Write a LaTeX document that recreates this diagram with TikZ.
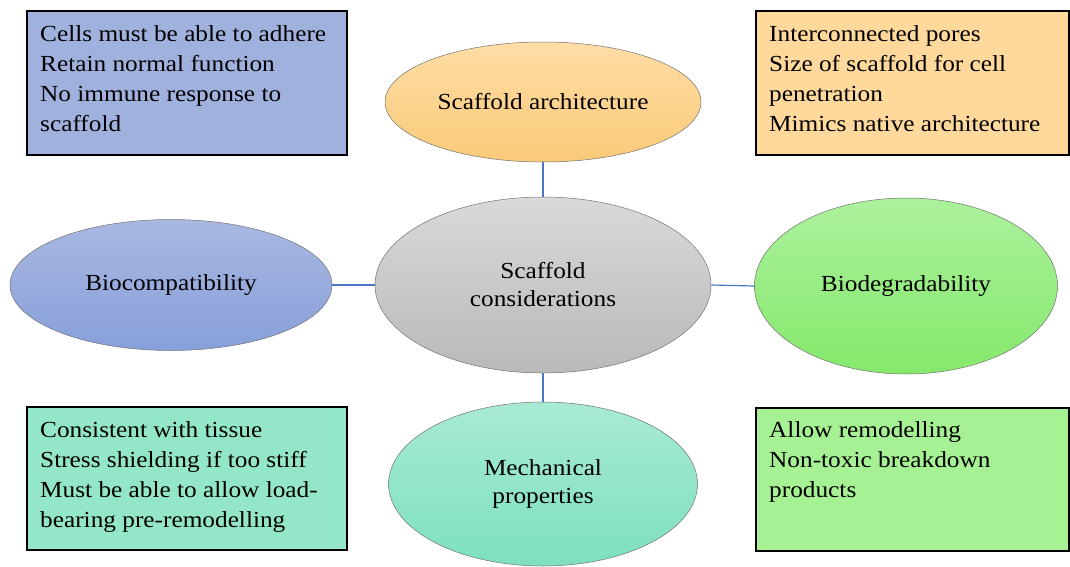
\documentclass[tikz,border=0pt]{standalone}
\usepackage{fontspec}
\setmainfont{Liberation Serif}[FakeStretch=1.1]
\usepackage{tikz}
\usetikzlibrary{positioning,shapes.geometric}
\usepackage{xcolor}

\definecolor{bioBox}{HTML}{A1B1DE}
\definecolor{archBox}{HTML}{FFD99C}
\definecolor{mechBox}{HTML}{93E6C7}
\definecolor{degBox}{HTML}{A6F193}
\definecolor{bioTop}{HTML}{A9B8E1}
\definecolor{bioBot}{HTML}{879FDA}
\definecolor{archTop}{HTML}{FFDDA6}
\definecolor{archBot}{HTML}{F9CA78}
\definecolor{midTop}{HTML}{D9D9D9}
\definecolor{midBot}{HTML}{B9B9B9}
\definecolor{degTop}{HTML}{ACF19D}
\definecolor{degBot}{HTML}{85E86B}
\definecolor{mechTop}{HTML}{A8EAD3}
\definecolor{mechBot}{HTML}{7DE0BE}
\definecolor{linkBlue}{HTML}{4A78C6}

\begin{document}
\begin{tikzpicture}[x=1pt,y=-1pt,
  boxtext/.style={anchor=north west,align=left,inner sep=0pt,font=\fontsize{23}{30}\selectfont},
  oval/.style={ellipse,draw=black!55,line width=0.5pt,inner sep=0pt,align=center,font=\fontsize{23}{28}\selectfont},
  link/.style={draw=linkBlue,line width=1.2pt}]
\useasboundingbox (0,0) rectangle (1070,567);

% boxes
\filldraw [fill=bioBox,draw=black,line width=1.3pt] (27,11) rectangle (347,155);
\filldraw [fill=archBox,draw=black,line width=1.3pt] (756,11) rectangle (1069,155);
\filldraw [fill=mechBox,draw=black,line width=1.3pt] (27,407) rectangle (347,550);
\filldraw [fill=degBox,draw=black,line width=1.3pt] (756,408) rectangle (1069,551);

\node[boxtext] (bioText) at (40,25) {Cells must be able to adhere\\Retain normal function\\No immune response to\\scaffold};
\node[boxtext] (archText) at (769,25) {Interconnected pores\\Size of scaffold for cell\\penetration\\Mimics native architecture};
\node[boxtext] (mechText) at (40,421) {Consistent with tissue\\Stress shielding if too stiff\\Must be able to allow load-\\bearing pre-remodelling};
\node[boxtext] (degText) at (769,421) {Allow remodelling\\Non-toxic breakdown\\products};

% ovals
\node[oval,minimum width=316pt,minimum height=120pt,top color=archTop,bottom color=archBot] (arch) at (543,102) {Scaffold architecture};
\node[oval,minimum width=336pt,minimum height=176pt,top color=midTop,bottom color=midBot] (centre) at (543,285) {Scaffold\\considerations};
\node[oval,minimum width=322pt,minimum height=131pt,top color=bioTop,bottom color=bioBot] (bio) at (171,285) {Biocompatibility};
\node[oval,minimum width=303pt,minimum height=176pt,top color=degTop,bottom color=degBot] (deg) at (906,286) {Biodegradability};
\node[oval,minimum width=309pt,minimum height=164pt,top color=mechTop,bottom color=mechBot] (mech) at (543,484) {Mechanical\\properties};

% links
\draw [link] (arch.south) -- (centre.north);
\draw [link] (bio.east) -- (centre.west);
\draw [link] (centre.east) -- (deg.west);
\draw [link] (centre.south) -- (mech.north);
\end{tikzpicture}
\end{document}
